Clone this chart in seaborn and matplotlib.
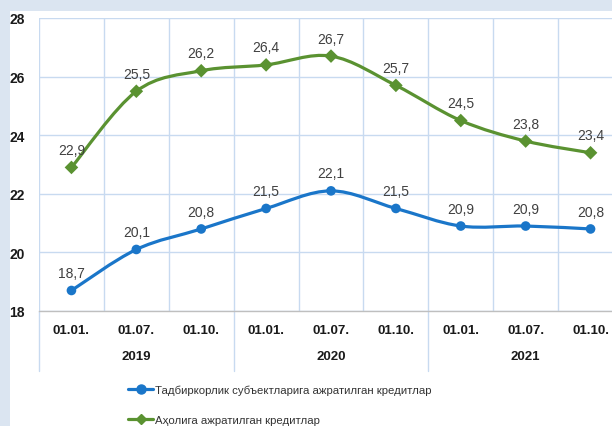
import matplotlib
matplotlib.use("Agg")
import matplotlib.pyplot as plt
import matplotlib.transforms as mtransforms
import numpy as np
import pandas as pd
import seaborn as sns
from matplotlib.lines import Line2D
from matplotlib.patches import PathPatch, Rectangle
from matplotlib.path import Path

periods = ["01.01.", "01.07.", "01.10.", "01.01.", "01.07.", "01.10.", "01.01.", "01.07.", "01.10."]
years = ["2019", "2020", "2021"]
business = [18.7, 20.1, 20.8, 21.5, 22.1, 21.5, 20.9, 20.9, 20.8]
households = [22.9, 25.5, 26.2, 26.4, 26.7, 25.7, 24.5, 23.8, 23.4]
series_names = [
    "Тадбиркорлик субъектларига ажратилган кредитлар",
    "Аҳолига ажратилган кредитлар",
]
y_ticks = [18, 20, 22, 24, 26, 28]

BLUE = "#1a76c9"
GREEN = "#5a9231"
GRID = "#c8daf0"

sns.set_theme(style="white")
plt.rcParams["font.family"] = ["Liberation Sans", "DejaVu Sans"]


def smooth_path(xs, ys):
    """Bezier path through the points, like Excel's smoothed line."""
    pts = np.column_stack([xs, ys]).astype(float)
    n = len(pts)
    verts = [pts[0]]
    codes = [Path.MOVETO]
    for i in range(n - 1):
        p_prev = pts[i - 1] if i > 0 else pts[i]
        p_next = pts[i + 2] if i + 2 < n else pts[i + 1]
        c1 = pts[i] + (pts[i + 1] - p_prev) / 6
        c2 = pts[i + 1] - (p_next - pts[i]) / 6
        verts += [c1, c2, pts[i + 1]]
        codes += [Path.CURVE4] * 3
    return Path(verts, codes)


idx = np.arange(len(periods))
df = pd.DataFrame({
    "pos": np.concatenate([idx, idx]),
    "value": business + households,
    "series": [series_names[0]] * len(idx) + [series_names[1]] * len(idx),
})

fig = plt.figure(figsize=(6.12, 4.27), dpi=100)
fig.patch.set_facecolor("#dbe5f1")
fig.add_artist(Rectangle((10 / 612, 0), 1, 1 - 12 / 427, transform=fig.transFigure,
                         facecolor="white", edgecolor="none", zorder=0))

ax = fig.add_axes([39 / 612, 1 - 312 / 427, 584 / 612, 293 / 427])
ax.set_facecolor("white")

for values, color in [(business, BLUE), (households, GREEN)]:
    ax.add_patch(PathPatch(smooth_path(idx, values), fill=False, edgecolor=color,
                           lw=2.3, capstyle="round", joinstyle="round", zorder=3))

sns.scatterplot(data=df, x="pos", y="value", hue="series", style="series",
                markers=["o", "D"], palette=[BLUE, GREEN], s=48, linewidth=0,
                legend=False, ax=ax, zorder=4)

for values in (business, households):
    for x, v in zip(idx, values):
        ax.annotate(f"{v:.1f}".replace(".", ","), (x, v), xytext=(0, 7.5),
                    textcoords="offset points", ha="center", va="bottom",
                    fontsize=10, color="#404040", zorder=5)

ax.set_xlim(-0.5, len(periods) - 0.5)
ax.set_ylim(18, 28)
ax.set_xticks(idx)
ax.set_xticklabels(periods, fontsize=9.5, fontweight="bold", color="#1a1a1a")
ax.set_xticks(np.arange(-0.5, len(periods)), minor=True)
ax.set_yticks(y_ticks)
ax.set_yticklabels([str(t) for t in y_ticks], fontsize=10, fontweight="bold", color="#1a1a1a")
ax.tick_params(axis="x", which="both", length=0, pad=9)
ax.tick_params(axis="y", length=0, pad=10)
ax.grid(axis="y", which="major", color=GRID, lw=1)
ax.grid(axis="x", which="minor", color=GRID, lw=1)
ax.set_xlabel("")
ax.set_ylabel("")
for side in ["left", "right", "top"]:
    ax.spines[side].set_visible(False)
ax.spines["bottom"].set_color("#bfbfbf")
ax.spines["bottom"].set_linewidth(1)

trans = mtransforms.blended_transform_factory(ax.transData, ax.transAxes)
for k, year in enumerate(years):
    ax.text(3 * k + 1, -0.154, year, transform=trans, ha="center", va="center",
            fontsize=9.5, fontweight="bold", color="#1a1a1a")
for xb in [-0.5, 2.5, 5.5, 8.5]:
    ax.add_line(Line2D([xb, xb], [0, -0.205], transform=trans, color=GRID,
                       lw=1, clip_on=False))

handles = [
    Line2D([], [], color=BLUE, lw=2.3, marker="o", markersize=6.5),
    Line2D([], [], color=GREEN, lw=2.3, marker="D", markersize=5.5),
]
fig.legend(handles, series_names, loc="upper left", bbox_to_anchor=(128 / 612, 1 - 386 / 427),
           frameon=False, fontsize=8.2, handlelength=2.2, handletextpad=0.15,
           labelspacing=1.75, labelcolor="#333333", borderaxespad=0, borderpad=0)

fig.savefig("out.png", dpi=100)
